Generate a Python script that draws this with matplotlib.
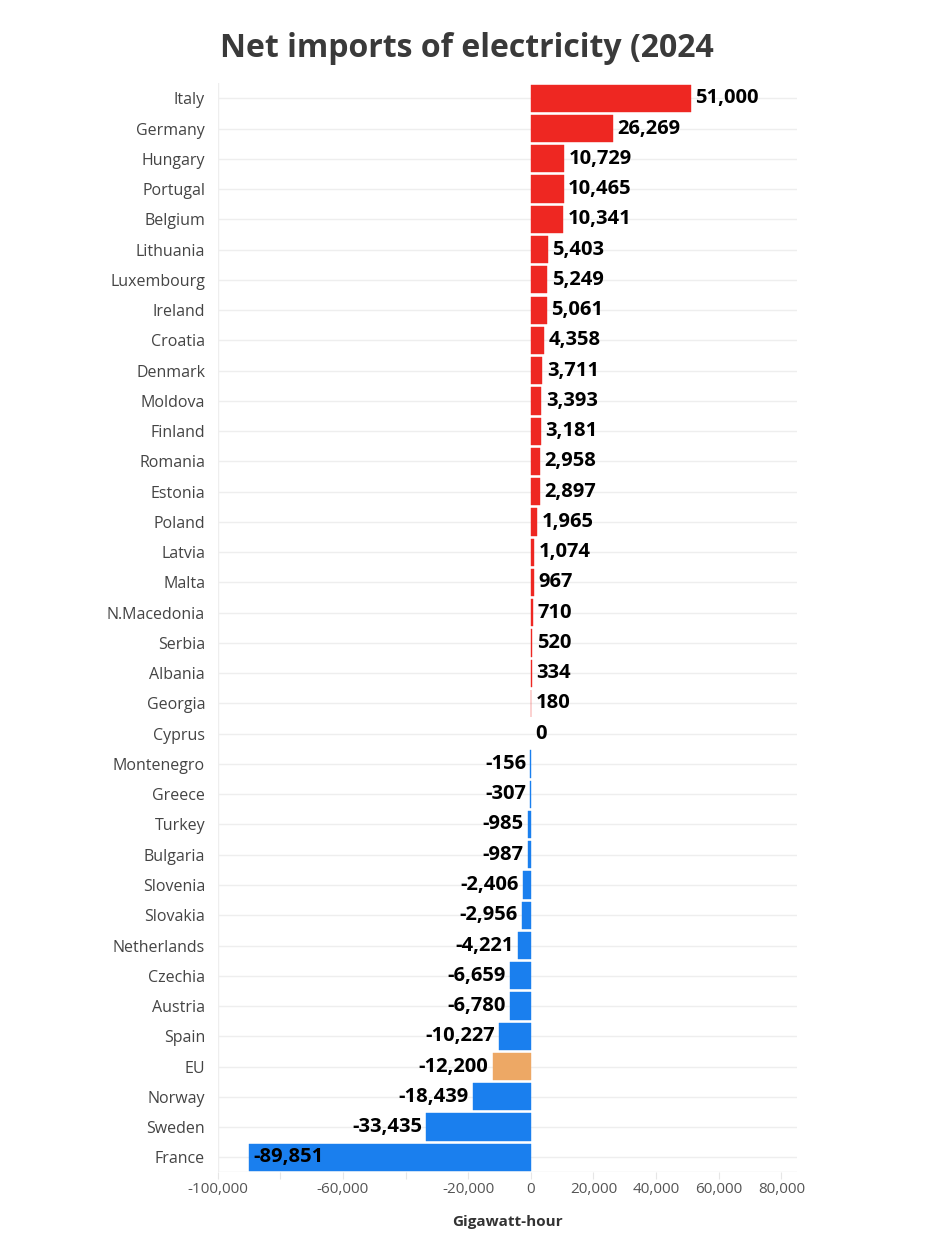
import numpy as np
import matplotlib.pyplot as plt

countries = ["Italy", "Germany", "Hungary", "Portugal", "Belgium", "Lithuania",
             "Luxembourg", "Ireland", "Croatia", "Denmark", "Moldova", "Finland",
             "Romania", "Estonia", "Poland", "Latvia", "Malta", "N.Macedonia",
             "Serbia", "Albania", "Georgia", "Cyprus", "Montenegro", "Greece",
             "Turkey", "Bulgaria", "Slovenia", "Slovakia", "Netherlands", "Czechia",
             "Austria", "Spain", "EU", "Norway", "Sweden", "France"]
values = [51000, 26269, 10729, 10465, 10341, 5403, 5249, 5061, 4358, 3711, 3393,
          3181, 2958, 2897, 1965, 1074, 967, 710, 520, 334, 180, 0, -156, -307,
          -985, -987, -2406, -2956, -4221, -6659, -6780, -10227, -12200, -18439,
          -33435, -89851]

xticks = [-100000, -80000, -60000, -40000, -20000, 0, 20000, 40000, 60000, 80000]
xticklabels = ["-100,000", "", "-60,000", "", "-20,000", "0", "20,000", "40,000",
               "60,000", "80,000"]

RED = "#ee2722"
BLUE = "#1a7fee"
ORANGE = "#eda865"

plt.rcParams['font.family'] = ['Open Sans', 'DejaVu Sans']

fig = plt.figure(figsize=(9.3, 12.42), dpi=100)
ax = fig.add_axes([0.234, 0.056, 0.623, 0.877])

ys = np.arange(len(countries))
colors = []
for c, v in zip(countries, values):
    if c == "EU":
        colors.append(ORANGE)
    elif v >= 0:
        colors.append(RED)
    else:
        colors.append(BLUE)
widths = [0.3 if v != 0 else 0 for v in values]

ax.barh(ys, values, height=0.9, color=colors, edgecolor=colors, linewidth=widths, zorder=3)

xmin, xmax = -100000, 85000
for y, v in zip(ys, values):
    lbl = f"{v:,}"
    if v >= 0:
        ax.text(v + 1400, y, lbl, ha="left", va="center", fontsize=14.5,
                fontweight="bold", color="black", zorder=4)
    elif v < -60000:
        # too long for outside, put it inside the bar
        ax.text(v + 1400, y, lbl, ha="left", va="center", fontsize=14.5,
                fontweight="bold", color="black", zorder=4)
    else:
        ax.text(v - 1300, y, lbl, ha="right", va="center", fontsize=14.5,
                fontweight="bold", color="black", zorder=4)

ax.set_xlim(xmin, xmax)
ax.set_ylim(len(countries) - 0.5, -0.5)
ax.set_yticks(ys)
ax.set_yticklabels(countries, fontsize=11.5, color="#444444")
ax.set_xticks(xticks)
ax.set_xticklabels(xticklabels, fontsize=11, color="#555555")

for y in ys:
    ax.axhline(y, color="#eeeeee", lw=1, zorder=1)
ax.axhline(len(countries) - 0.5, color="#e6e6e6", lw=1, zorder=1)
ax.axvline(xmin, color="#eeeeee", lw=1, zorder=1)

for s in ax.spines.values():
    s.set_visible(False)
ax.tick_params(axis="y", length=0, pad=9)
ax.tick_params(axis="x", length=5, color="#e6e6e6", pad=2)

ax.set_xlabel("Gigawatt-hour", fontsize=11, fontweight="bold", color="#333333", labelpad=13)
fig.text(0.502, 0.961, "Net imports of electricity (2024", fontsize=23, fontweight="bold",
         color="#3a3a3a", ha="center", va="center")

fig.savefig("out.png", dpi=100, facecolor="white")
